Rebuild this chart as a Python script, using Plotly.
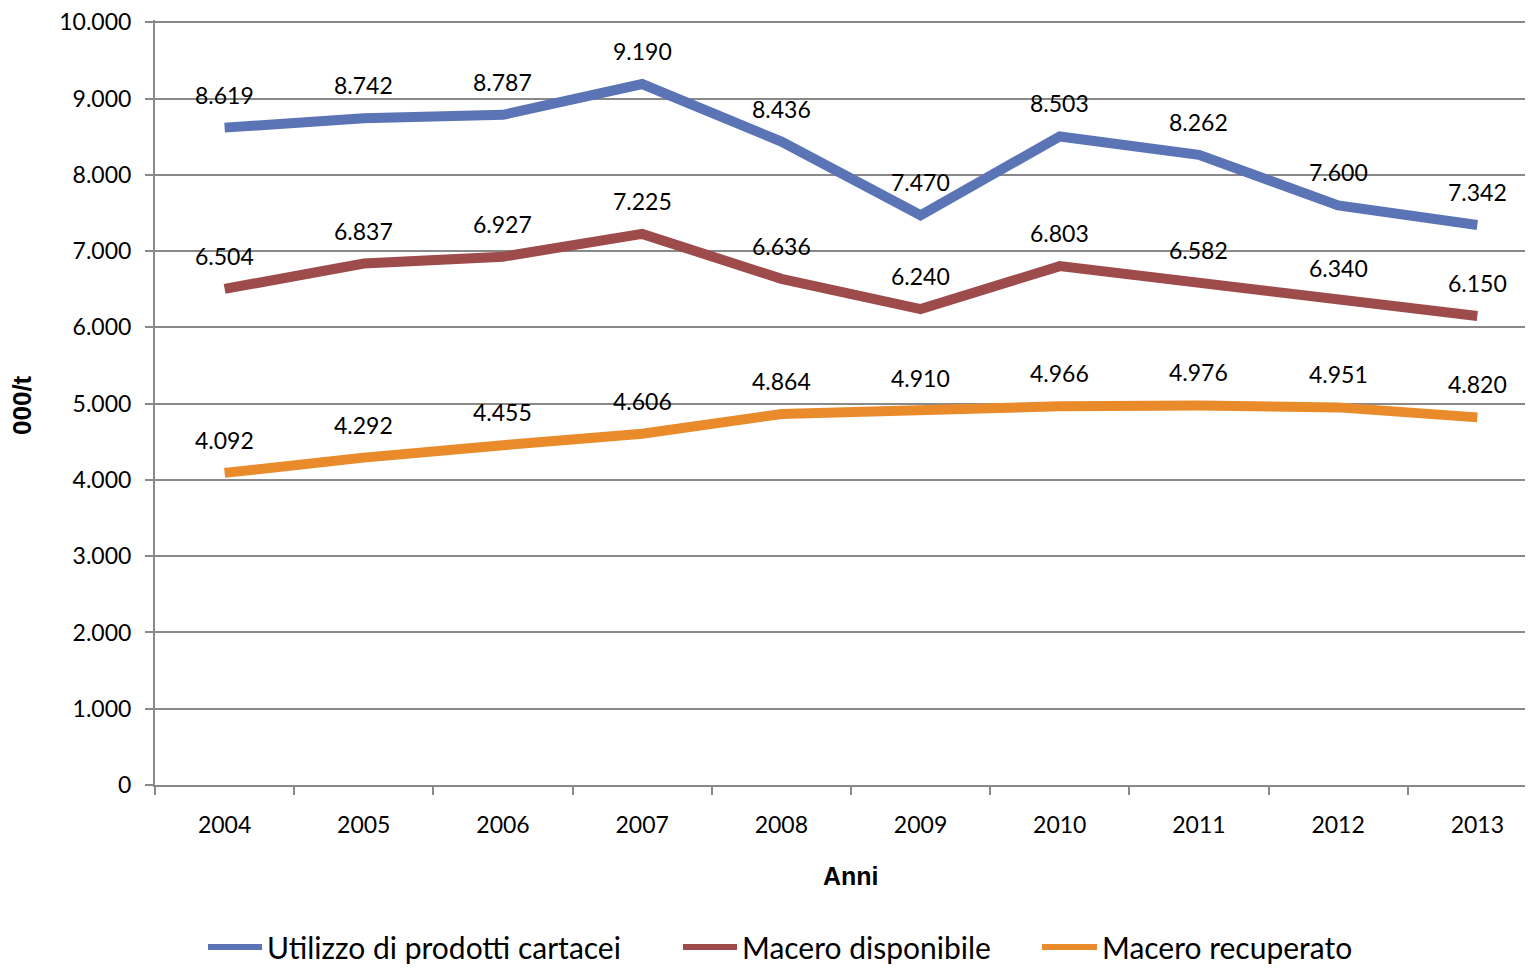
import plotly.graph_objects as go

years = ["2004", "2005", "2006", "2007", "2008", "2009", "2010", "2011", "2012", "2013"]
utilizzo = [8619, 8742, 8787, 9190, 8436, 7470, 8503, 8262, 7600, 7342]
macero_disp = [6504, 6837, 6927, 7225, 6636, 6240, 6803, 6582, 6340, 6150]
macero_rec = [4092, 4292, 4455, 4606, 4864, 4910, 4966, 4976, 4951, 4820]
y_ticks = [0, 1000, 2000, 3000, 4000, 5000, 6000, 7000, 8000, 9000, 10000]

series = [
    ("Utilizzo di prodotti cartacei", utilizzo, "#5B74B6"),
    ("Macero disponibile", macero_disp, "#9E4B4C"),
    ("Macero recuperato", macero_rec, "#EA8B2B"),
]

FONT = "Lato"
TITLE_FONT = "Liberation Sans"

OFF = 8  # page body margin
W, H = 1525, 960
L, R, T, B = 147, 0, 12, 183
PW, PH = W - L - R, H - T - B


def px(xp):
    return (xp - OFF - L) / PW


def py(yp):
    return (H - B - (yp - OFF)) / PH


fig = go.Figure()
annotations = []
shapes = []
for name, vals, color in series:
    fig.add_trace(go.Scatter(
        x=years, y=vals, mode="lines", name=name,
        line=dict(color=color, width=10), showlegend=False,
    ))
    for i, v in enumerate(vals):
        annotations.append(dict(
            x=i, y=v, xref="x", yref="y", text=f"{v:,}".replace(",", "."),
            showarrow=False, yshift=33, font=dict(family=FONT, size=23, color="#000"),
        ))

# axis titles
annotations.append(dict(x=px(851), y=py(876), xref="paper", yref="paper",
                        text="<b>Anni</b>", showarrow=False, xanchor="center", yanchor="middle",
                        font=dict(family=TITLE_FONT, size=25, color="#000")))
annotations.append(dict(x=px(22), y=py(405), xref="paper", yref="paper",
                        text="<b>000/t</b>", showarrow=False, textangle=-90,
                        xanchor="center", yanchor="middle",
                        font=dict(family=TITLE_FONT, size=26, color="#000")))

# legend (built from series names / colours)
legend_pos = [(208, 262), (683, 737), (1042, 1097)]
ly = 947
for (name, vals, color), (x0, x1) in zip(series, legend_pos):
    shapes.append(dict(type="line", xref="paper", yref="paper",
                       x0=px(x0), x1=px(x1), y0=py(ly), y1=py(ly),
                       line=dict(color=color, width=6)))
    annotations.append(dict(x=px(x1 + 3), y=py(ly), xref="paper", yref="paper",
                            text=name, showarrow=False, xanchor="left", yanchor="middle",
                            font=dict(family=FONT, size=30, color="#000")))

fig.update_layout(
    width=W, height=H,
    margin=dict(l=L, r=R, t=T, b=B, autoexpand=False),
    paper_bgcolor="white", plot_bgcolor="white",
    separators=",.",
    font=dict(family=FONT, size=22, color="#000"),
    annotations=annotations,
    shapes=shapes,
    showlegend=False,
    xaxis=dict(
        type="category", range=[-0.5, 9.4], automargin=False,
        showgrid=False, showline=True, linecolor="#898989", linewidth=2,
        ticks="outside", tickson="boundaries", ticklen=8, tickcolor="#898989", tickwidth=2,
        ticklabelstandoff=18,
        tickfont=dict(family=FONT, size=23, color="#000"),
    ),
    yaxis=dict(
        range=[0, 10030], tickvals=y_ticks, tickformat=",d",
        automargin=False, ticklabeloverflow="allow",
        showgrid=True, gridcolor="#898989", gridwidth=2,
        showline=True, linecolor="#898989", linewidth=2,
        ticks="outside", ticklen=8, tickcolor="#898989", tickwidth=2,
        ticklabelstandoff=9,
        tickfont=dict(family=FONT, size=23, color="#000"),
        zeroline=False,
    ),
)

fig.write_html("out.html")
